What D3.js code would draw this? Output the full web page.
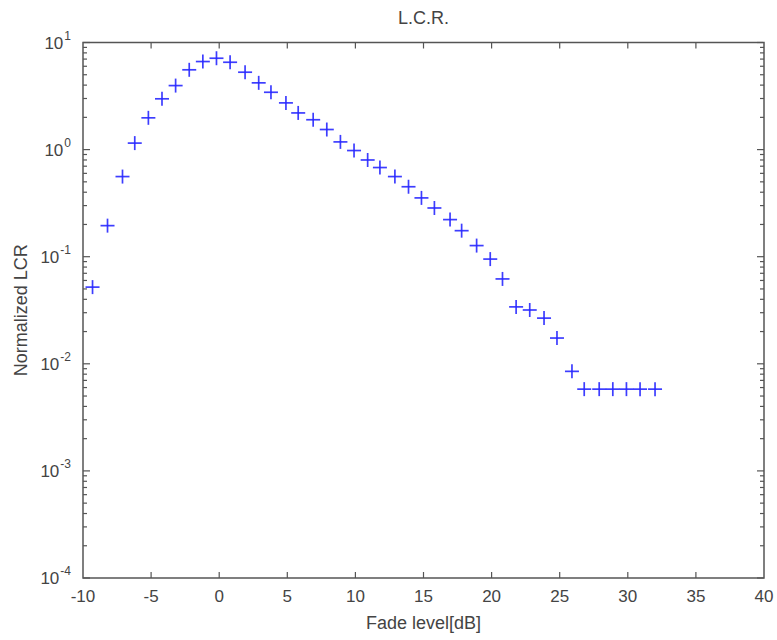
<!DOCTYPE html>
<html>
<head>
<meta charset="utf-8">
<script src="https://cdn.jsdelivr.net/npm/d3@7"></script>
<style>
  body { margin: 0; background: #fff; }
  svg text { font-family: "Liberation Sans", Arial, sans-serif; fill: #444; }
</style>
</head>
<body>
<div id="chart"></div>
<script>
// fade level (dB)
const fadeLevel = [-9.3, -8.2, -7.1, -6.2, -5.2, -4.2, -3.2, -2.2, -1.2, -0.2,
  0.8, 1.9, 2.9, 3.8, 4.9, 5.8, 6.9, 7.9, 8.9, 9.9,
  10.9, 11.8, 12.9, 13.9, 14.85, 15.8, 16.95, 17.8, 18.9, 19.9,
  20.8, 21.8, 22.8, 23.85, 24.8, 25.9, 26.8, 27.9, 28.9, 29.9, 30.9, 32.0];

// normalized level crossing rate
const lcr = [0.052, 0.195, 0.56, 1.15, 1.98, 2.98, 3.96, 5.56, 6.64, 7.13,
  6.54, 5.28, 4.2, 3.43, 2.73, 2.2, 1.9, 1.54, 1.18, 0.98,
  0.8, 0.68, 0.56, 0.45, 0.354, 0.285, 0.222, 0.175, 0.127, 0.095,
  0.062, 0.034, 0.0318, 0.0267, 0.0174, 0.0085, 0.0058, 0.0058, 0.0058, 0.0058, 0.0058, 0.0058];

const xTicks = [-10, -5, 0, 5, 10, 15, 20, 25, 30, 35, 40];
const yExponents = [-4, -3, -2, -1, 0, 1];

const width = 777, height = 640;
const margin = {t: 42.5, r: 13, b: 62, l: 83};

const svg = d3.select('#chart').append('svg')
  .attr('width', width)
  .attr('height', height);

const scaleX = d3.scaleLinear().domain([-10, 40]).range([margin.l, width - margin.r]);
const scaleY = d3.scaleLog().domain([1e-4, 10]).range([height - margin.b, margin.t]);

const x0 = scaleX.range()[0], x1 = scaleX.range()[1];
const y0 = scaleY.range()[0], y1 = scaleY.range()[1];
const axisColor = '#555';

// minor log ticks (2..9 x 10^k)
const minor = [];
yExponents.slice(0, -1).forEach(e => {
  for (let m = 2; m <= 9; m++) minor.push(m * Math.pow(10, e));
});

const ticks = svg.append('g').attr('class', 'ticks')
  .attr('stroke', axisColor).attr('stroke-width', 1.2);

// x ticks, bottom and top, pointing inward
xTicks.filter(d => d > -10 && d < 40).forEach(d => {
  const x = scaleX(d);
  ticks.append('line').attr('x1', x).attr('x2', x).attr('y1', y0).attr('y2', y0 - 6);
  ticks.append('line').attr('x1', x).attr('x2', x).attr('y1', y1).attr('y2', y1 + 6);
});

// y ticks, left and right
yExponents.forEach(e => {
  const y = scaleY(Math.pow(10, e));
  ticks.append('line').attr('x1', x0).attr('x2', x0 + 7).attr('y1', y).attr('y2', y);
  ticks.append('line').attr('x1', x1).attr('x2', x1 - 7).attr('y1', y).attr('y2', y);
});
minor.forEach(v => {
  const y = scaleY(v);
  ticks.append('line').attr('x1', x0).attr('x2', x0 + 4).attr('y1', y).attr('y2', y);
  ticks.append('line').attr('x1', x1).attr('x2', x1 - 4).attr('y1', y).attr('y2', y);
});

// box
svg.append('rect')
  .attr('x', x0).attr('y', y1)
  .attr('width', x1 - x0).attr('height', y0 - y1)
  .attr('fill', 'none')
  .attr('stroke', axisColor)
  .attr('stroke-width', 1.5);

// x tick labels
svg.append('g').selectAll('text')
  .data(xTicks)
  .join('text')
  .attr('x', d => scaleX(d))
  .attr('y', y0 + 24)
  .attr('text-anchor', 'middle')
  .style('font-size', '17px')
  .text(d => d);

// y tick labels 10^e
const yLab = svg.append('g').selectAll('text')
  .data(yExponents)
  .join('text')
  .attr('x', x0 - 12)
  .attr('y', d => scaleY(Math.pow(10, d)) + 6)
  .attr('text-anchor', 'end')
  .style('font-size', '17px');
yLab.append('tspan').text('10');
yLab.append('tspan')
  .attr('dx', 1)
  .attr('dy', -9)
  .style('font-size', '12px')
  .text(d => d);

// markers
const plus = svg.append('g').attr('class', 'points')
  .attr('stroke', '#2828ff')
  .attr('stroke-width', 1.7)
  .attr('stroke-opacity', 0.9);
const s = 7;
fadeLevel.forEach((fx, i) => {
  const cx = scaleX(fx), cy = scaleY(lcr[i]);
  plus.append('line').attr('x1', cx - s).attr('x2', cx + s).attr('y1', cy).attr('y2', cy);
  plus.append('line').attr('x1', cx).attr('x2', cx).attr('y1', cy - s).attr('y2', cy + s);
});

// title and axis labels
svg.append('text')
  .attr('x', (x0 + x1) / 2)
  .attr('y', 24)
  .attr('text-anchor', 'middle')
  .style('font-size', '18px')
  .text('L.C.R.');

svg.append('text')
  .attr('x', (x0 + x1) / 2)
  .attr('y', 629)
  .attr('text-anchor', 'middle')
  .style('font-size', '18px')
  .text('Fade level[dB]');

svg.append('text')
  .attr('transform', `translate(27,${(y0 + y1) / 2}) rotate(-90)`)
  .attr('text-anchor', 'middle')
  .style('font-size', '18px')
  .text('Normalized LCR');
</script>
</body>
</html>
